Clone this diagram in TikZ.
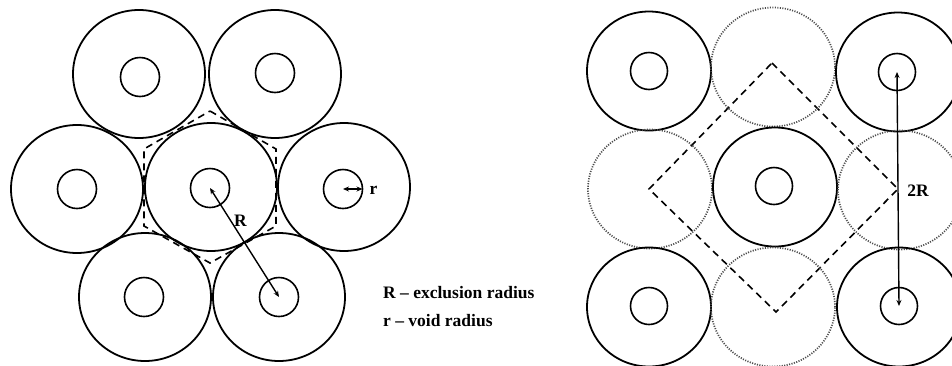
\documentclass[tikz,border=0pt]{standalone}
\usepackage{fontspec}
\setmainfont{Liberation Serif}
\usetikzlibrary{shapes.geometric,arrows.meta}
\begin{document}
\begin{tikzpicture}[x=1pt,y=-1pt,
  outer/.style={draw=black,line width=1.8pt,ellipse,inner sep=0pt,minimum width=132pt,minimum height=128pt},
  router/.style={draw=black,line width=1.8pt,ellipse,inner sep=0pt,minimum width=124pt,minimum height=119pt},
  ghost/.style={draw=black!70,line width=1.7pt,dash pattern=on 1.1pt off 1.4pt,ellipse,inner sep=0pt,minimum width=124pt,minimum height=119pt},
  void/.style={draw=black,line width=1.6pt,circle,inner sep=0pt,minimum size=39pt},
  cellline/.style={line width=1.6pt,dash pattern=on 7pt off 5pt},
  dim/.style={line width=1.4pt,{Stealth[length=6pt,width=5pt]}-{Stealth[length=6pt,width=5pt]}},
  lab/.style={font=\fontsize{17.5}{21}\selectfont\bfseries,inner sep=0pt,anchor=base}
]
\useasboundingbox (0,0) rectangle (952,365);
% ---------- left: hexagonal packing ----------
\coordinate (h1) at (210,111);
\coordinate (h2) at (276,149);
\coordinate (h3) at (276,226);
\coordinate (h4) at (210,263);
\coordinate (h5) at (144,226);
\coordinate (h6) at (144,149);
\draw[cellline] (h1) -- (h2) -- (h3) -- (h4) -- (h5) -- (h6) -- cycle;
\node[outer] (o0) at (211,187) {};
\node[outer] (o1) at (139,74) {};
\node[outer] (o2) at (275,74) {};
\node[outer] (o3) at (77,189) {};
\node[outer] (o4) at (344,187) {};
\node[outer] (o5) at (145,297) {};
\node[outer] (o6) at (279,297) {};
\node[void] (v0) at (210,188) {};
\node[void] (v1) at (140,77) {};
\node[void] (v2) at (275,73) {};
\node[void] (v3) at (77,189) {};
\node[void] (v4) at (343,189) {};
\node[void] (v5) at (144,297) {};
\node[void] (v6) at (279,297) {};
\draw[dim] (v0.center) -- (v6.center);
\draw[dim] (v4.center) -- ([xshift=-0.8pt]v4.east);
\node[lab] (lR) at (240.5,226) {R};
\node[lab] (lr) at (373.5,194) {r};
\node[lab,anchor=base west] (t1) at (383,298) {R -- exclusion radius};
\node[lab,anchor=base west] (t2) at (383,326) {r -- void radius};
% ---------- right: square packing ----------
\coordinate (d1) at (772,63);
\coordinate (d2) at (898,189);
\coordinate (d3) at (776,312);
\coordinate (d4) at (649,189);
\draw[cellline] (d1) -- (d2) -- (d3) -- (d4) -- cycle;
\node[router] (s11) at (649,71) {};
\node[ghost]  (s12) at (773,67) {};
\node[router] (s13) at (898,72) {};
\node[ghost]  (s21) at (650,189) {};
\node[router] (s22) at (775,187) {};
\node[ghost]  (s23) at (900,190) {};
\node[router] (s31) at (649,307) {};
\node[ghost]  (s32) at (773,307) {};
\node[router] (s33) at (899,307) {};
\node[void,minimum size=37pt] (w11) at (649,71) {};
\node[void,minimum size=37pt] (w13) at (897,72) {};
\node[void,minimum size=37pt] (w22) at (774,186) {};
\node[void,minimum size=37pt] (w31) at (649,306) {};
\node[void,minimum size=37pt] (w33) at (899,306) {};
\draw[dim] (w13.center) -- (w33.center);
\node[lab] (l2R) at (918,196) {2R};
\end{tikzpicture}
\end{document}
